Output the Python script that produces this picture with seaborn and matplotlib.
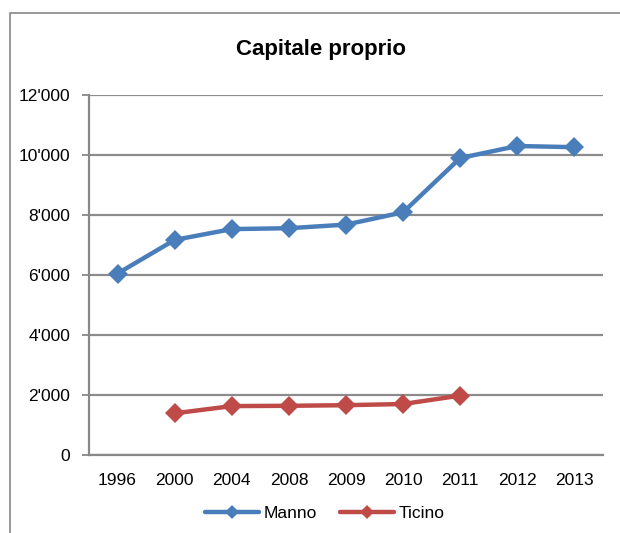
import matplotlib
matplotlib.use("Agg")
import matplotlib.pyplot as plt
from matplotlib.patches import Rectangle
from matplotlib.ticker import FuncFormatter, FixedLocator
from matplotlib.lines import Line2D
import numpy as np
import pandas as pd
import seaborn as sns

anni = ["1996", "2000", "2004", "2008", "2009", "2010", "2011", "2012", "2013"]
manno = [6050, 7170, 7530, 7560, 7680, 8090, 9900, 10300, 10260]
ticino = [np.nan, 1390, 1630, 1640, 1660, 1700, 1980, np.nan, np.nan]
serie = ["Manno", "Ticino"]
colori = ["#4A7EBB", "#BE4B48"]

sns.set_theme(style="white")
plt.rcParams["font.family"] = ["Liberation Sans", "DejaVu Sans"]
plt.rcParams["text.color"] = "black"

df = pd.DataFrame({
    "anno": anni * 2,
    "valore": manno + ticino,
    "serie": [serie[0]] * len(anni) + [serie[1]] * len(anni),
}).dropna()

fig = plt.figure(figsize=(6.2, 5.33), dpi=100)
ax = fig.add_axes([89 / 620, 1 - 455 / 533, (603 - 89) / 620, (455 - 95) / 533])

sns.lineplot(data=df, x="anno", y="valore", hue="serie", palette=colori,
             marker="D", markersize=10, markeredgewidth=0, linewidth=3.2,
             sort=False, legend=False, ax=ax)

ax.set_xlim(-0.5, len(anni) - 0.5)
ax.set_ylim(0, 12000)
ax.set_yticks(range(0, 12001, 2000))
ax.yaxis.set_major_formatter(FuncFormatter(lambda v, p: f"{int(v):,}".replace(",", "'")))
ax.set_xticks(range(len(anni)))
ax.set_xticklabels(anni)
ax.xaxis.set_minor_locator(FixedLocator(np.arange(-0.5, len(anni), 1.0)))
ax.tick_params(axis="x", which="major", length=0, labelsize=12.5, pad=13, labelcolor="black")
ax.tick_params(axis="x", which="minor", length=5, width=1.3, color="#888888", direction="out")
ax.tick_params(axis="y", length=5, width=1.3, color="#888888", direction="out",
               labelsize=12.5, labelcolor="black", left=True, pad=8.5)
ax.set_xlabel("")
ax.set_ylabel("")
ax.grid(axis="y", color="#8c8c8c", linewidth=1.6)
ax.set_axisbelow(True)
for s in ["top", "right"]:
    ax.spines[s].set_visible(False)
for s in ["left", "bottom"]:
    ax.spines[s].set_color("#888888")
    ax.spines[s].set_linewidth(1.6)

fig.text(321 / 620, 1 - 49 / 533, "Capitale proprio", fontsize=16,
         fontweight="bold", ha="center", va="center", color="black")

handles = [Line2D([], [], color=c, linewidth=3.2, marker="D", markersize=7.5,
                  markeredgewidth=0) for c in colori]
fig.legend(handles, serie, loc="center", bbox_to_anchor=(325 / 620, 1 - 513 / 533),
           ncol=2, frameon=False, fontsize=12.5, handlelength=3.1,
           handletextpad=0.25, columnspacing=1.35, borderpad=0, borderaxespad=0)

fig.patches.append(Rectangle((10 / 620, -0.1), 1.2, 1.1 - 13 / 533,
                             transform=fig.transFigure, fill=False,
                             edgecolor="#888888", linewidth=1.2))

fig.savefig("out.png", dpi=100)
